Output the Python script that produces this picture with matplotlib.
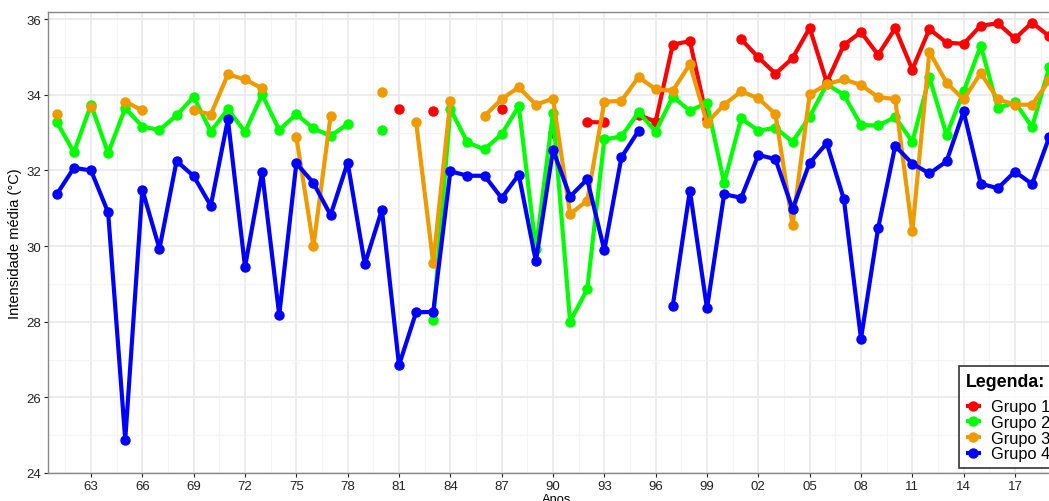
import numpy as np
import matplotlib.pyplot as plt
from matplotlib.ticker import MultipleLocator, FixedLocator, FuncFormatter

plt.rcParams['font.family'] = ['Liberation Sans', 'DejaVu Sans']

nan = np.nan

# Anos da série
anos = list(range(1961, 2020))

grupo1 = [nan, nan, nan, nan, nan, nan, nan, nan, nan, nan,
          nan, nan, nan, nan, nan, nan, nan, nan, nan, nan,
          33.62, nan, 33.56, nan, nan, nan, 33.63, nan, nan, 33.00,
          nan, 33.28, 33.27, nan, 33.47, 33.29, 35.33, 35.42, 33.37, nan,
          35.47, 34.99, 34.56, 34.97, 35.77, 34.33, 35.32, 35.66, 35.06, 35.76,
          34.67, 35.74, 35.38, 35.35, 35.83, 35.89, 35.49, 35.91, 35.55]

grupo2 = [33.28, 32.48, 33.74, 32.46, 33.65, 33.16, 33.07, 33.46, 33.95, 33.03,
          33.62, 33.02, 34.01, 33.07, 33.49, 33.11, 32.92, 33.22, nan, 33.07,
          nan, nan, 28.05, 33.63, 32.74, 32.56, 32.96, 33.70, 29.92, 33.52,
          28.00, 28.86, 32.82, 32.90, 33.54, 33.03, 33.95, 33.58, 33.79, 31.67,
          33.38, 33.05, 33.13, 32.76, 33.42, 34.28, 34.00, 33.20, 33.19, 33.41,
          32.76, 34.46, 32.94, 34.09, 35.30, 33.65, 33.80, 33.15, 34.73]

grupo3 = [33.49, nan, 33.67, nan, 33.82, 33.59, nan, nan, 33.60, 33.48,
          34.54, 34.41, 34.17, nan, 32.89, 30.00, 33.44, nan, nan, 34.07,
          nan, 33.28, 29.55, 33.85, nan, 33.44, 33.89, 34.20, 33.74, 33.90,
          30.85, 31.20, 33.82, 33.84, 34.47, 34.15, 34.11, 34.81, 33.26, 33.74,
          34.09, 33.91, 33.49, 30.56, 34.01, 34.28, 34.41, 34.26, 33.94, 33.89,
          30.39, 35.14, 34.32, 33.88, 34.58, 33.88, 33.74, 33.74, 34.38]

grupo4 = [31.37, 32.07, 32.00, 30.89, 24.88, 31.49, 29.93, 32.25, 31.85, 31.07,
          33.35, 29.45, 31.95, 28.18, 32.19, 31.67, 30.82, 32.21, 29.52, 30.96,
          26.85, 28.25, 28.26, 31.98, 31.86, 31.86, 31.27, 31.89, 29.60, 32.54,
          31.31, 31.77, 29.89, 32.35, 33.05, nan, 28.42, 31.47, 28.35, 31.37,
          31.28, 32.41, 32.30, 30.98, 32.20, 32.72, 31.24, 27.55, 30.47, 32.65,
          32.18, 31.92, 32.24, 33.56, 31.65, 31.53, 31.97, 31.64, 32.88]

grupos = ['Grupo 1', 'Grupo 2', 'Grupo 3', 'Grupo 4']
cores = ['#FF0000', '#00FF00', '#EE9A00', '#0000FF']

fig = plt.figure(figsize=(10.49, 5.02), dpi=100)
ax = fig.add_axes([0.0455, 0.0558, 0.971, 0.919])

for nome, serie, cor in zip(grupos, [grupo1, grupo2, grupo3, grupo4], cores):
    ax.plot(anos, serie, color=cor, linewidth=3, marker='o', markersize=6.5,
            label=nome, solid_capstyle='butt')

ax.set_xlim(1960.47, 2020)
ax.set_ylim(24, 36.2)

ax.xaxis.set_major_locator(FixedLocator(list(range(1963, 2018, 3))))
ax.xaxis.set_minor_locator(FixedLocator([a + 1.5 for a in range(1960, 2020, 3)]))
ax.xaxis.set_major_formatter(FuncFormatter(lambda v, p: f'{int(v) % 100:02d}'))
ax.yaxis.set_major_locator(MultipleLocator(2))
ax.yaxis.set_minor_locator(MultipleLocator(1))

ax.grid(which='major', color='#EBEBEB', linewidth=1.3)
ax.grid(which='minor', color='#F4F4F4', linewidth=0.8)
ax.set_axisbelow(True)

for lado in ['left', 'bottom', 'top', 'right']:
    ax.spines[lado].set_color('#888888')
    ax.spines[lado].set_linewidth(1.0)

ax.tick_params(axis='both', which='major', labelsize=9.5, colors='#222222',
               length=3, width=0.8, pad=2)
ax.tick_params(axis='both', which='minor', length=0)

ax.set_ylabel('Intensidade média (°C)', fontsize=10.5, labelpad=3)
ax.set_xlabel('Anos', fontsize=9.3, labelpad=1)

leg = ax.legend(title='Legenda:', loc='lower left',
                bbox_to_anchor=(959 / 1049, 33 / 502),
                bbox_transform=fig.transFigure, fontsize=11.8,
                title_fontproperties={'weight': 'bold', 'size': 12.8},
                frameon=True, fancybox=False, edgecolor='black',
                handlelength=0.95, handletextpad=0.6, labelspacing=0.04,
                borderpad=0.4, borderaxespad=0, alignment='left')
leg._legend_box.sep = 7  # espaço entre o título e os itens
leg.get_frame().set_linewidth(1.2)

fig.savefig('out.png', dpi=100)
